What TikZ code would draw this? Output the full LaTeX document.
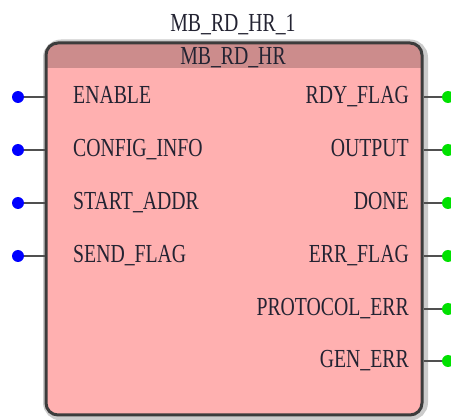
\documentclass[tikz,border=0pt]{standalone}
\usepackage{fontspec}
\setmainfont{Liberation Serif}[FakeStretch=0.76]
\definecolor{bodyfill}{RGB}{255,176,176}
\definecolor{headfill}{RGB}{204,140,140}
\definecolor{frame}{RGB}{60,60,60}
\definecolor{glow}{RGB}{160,160,160}
\definecolor{wire}{RGB}{80,80,80}
\definecolor{inpin}{RGB}{0,0,255}
\definecolor{outpin}{RGB}{0,225,0}
\definecolor{ink}{RGB}{35,35,50}
\begin{document}
\begin{tikzpicture}[x=1pt,y=-1pt,
  lbl/.style={inner sep=0pt,text=ink,font=\fontsize{26}{26}\selectfont},
  inlbl/.style={lbl,anchor=base west},
  outlbl/.style={lbl,anchor=base east},
  indot/.style={circle,fill=inpin,inner sep=0pt,minimum size=12pt},
  outdot/.style={circle,fill=outpin,inner sep=0pt,minimum size=12pt},
  pinwire/.style={draw=wire,line width=2pt}]
\useasboundingbox (0,0) rectangle (451,420);
% block body with soft shadow and dark frame
\node[draw=glow,line width=8pt,rounded corners=14pt,minimum width=377pt,minimum height=373pt,inner sep=0pt,opacity=0.55]
  (halo) at (235.5,230) {};
\begin{scope}
  \clip[rounded corners=12pt] (46,43) rectangle (422,415);
  \fill[bodyfill] (46,43) rectangle (422,415);
  \fill[headfill] (46,43) rectangle (422,68);
\end{scope}
\node[draw=frame,line width=3pt,rounded corners=12pt,minimum width=376pt,minimum height=372pt,inner sep=0pt]
  (box) at (234,229) {};
% titles
\node[lbl,anchor=base] (inst) at (233,32) {MB\_RD\_HR\_1};
\node[lbl,anchor=base] (type) at (233,65) {MB\_RD\_HR};
% inputs
\foreach \name/\txt/\y in {en/ENABLE/97, cfg/CONFIG\_INFO/150, addr/START\_ADDR/203, send/SEND\_FLAG/256}{
  \node[indot] (d\name) at (18,\y) {};
  \node[inlbl] (l\name) at (73,\y+7) {\txt};
  \draw[pinwire] (d\name) -- (box.west |- d\name);
}
% outputs
\foreach \name/\txt/\y in {rdy/RDY\_FLAG/97, out/OUTPUT/150, done/DONE/203, err/ERR\_FLAG/256, prot/PROTOCOL\_ERR/309, gen/GEN\_ERR/361}{
  \node[outdot] (d\name) at (448,\y) {};
  \node[outlbl] (l\name) at (409,\y+7) {\txt};
  \draw[pinwire] (box.east |- d\name) -- (d\name);
}
\end{tikzpicture}
\end{document}
